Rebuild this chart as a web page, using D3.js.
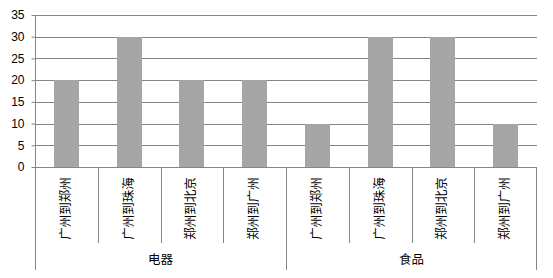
<!DOCTYPE html>
<html>
<head>
<meta charset="utf-8">
<script src="https://cdn.jsdelivr.net/npm/d3@7"></script>
<style>
  body { margin: 0; background: #fff; }
  svg { display: block; }
</style>
</head>
<body>
<div id="viz"></div>
<script>
const width = 553;
const height = 278;
const margin = {top: 15, right: 16, bottom: 111, left: 35};
const barColor = '#a5a5a5';
const lineColor = '#868686';

// data
const groups = ['电器', '食品'];
const routes = ['广州到郑州', '广州到珠海', '郑州到北京', '郑州到广州'];
const values = [20, 30, 20, 20, 10, 30, 30, 10];
const yTicks = [0, 5, 10, 15, 20, 25, 30, 35];

// flatten into one row per bar
const data = [];
groups.forEach((g, gi) => {
    routes.forEach((r, ri) => {
        data.push({group: g, route: r, key: g + '|' + r, value: values[gi * routes.length + ri]});
    });
});

const x = d3.scaleBand()
    .domain(data.map(d => d.key))
    .range([margin.left, width - margin.right])
    .paddingInner(0.6)
    .paddingOuter(0.3);

const y = d3.scaleLinear()
    .domain([0, 35])
    .range([height - margin.bottom, margin.top]);

const svg = d3.select('#viz')
    .append('svg')
        .attr('width', width)
        .attr('height', height);

// gridlines
svg.append('g')
    .selectAll('line')
    .data(yTicks)
    .join('line')
        .attr('x1', margin.left)
        .attr('x2', width - margin.right)
        .attr('y1', d => Math.round(y(d)) + 0.5)
        .attr('y2', d => Math.round(y(d)) + 0.5)
        .attr('stroke', lineColor);

// y axis
const yAxis = svg.append('g')
    .attr('transform', `translate(${margin.left + 0.5},0)`)
    .call(d3.axisLeft(y).tickValues(yTicks).tickSize(4).tickPadding(7).tickSizeOuter(0));
yAxis.select('.domain').remove();
yAxis.selectAll('.tick line').attr('stroke', lineColor);
yAxis.selectAll('.tick text')
    .attr('font-family', 'Liberation Sans, Arial, sans-serif')
    .attr('font-size', 12)
    .attr('fill', '#000');
yAxis.attr('font-family', null);

// bars
svg.append('g')
    .selectAll('rect')
    .data(data)
    .join('rect')
        .attr('x', d => Math.round(x(d.key)))
        .attr('y', d => Math.round(y(d.value)))
        .attr('width', Math.round(x.bandwidth()))
        .attr('height', d => Math.round(y(0)) - Math.round(y(d.value)))
        .attr('fill', barColor);

// multi-level category axis
const step = x.step();
const x0 = margin.left;
const baseY = Math.round(y(0)) + 0.5;
const axisG = svg.append('g');

axisG.append('line')
    .attr('x1', x0).attr('x2', width - margin.right)
    .attr('y1', baseY).attr('y2', baseY)
    .attr('stroke', lineColor);

// separators between routes
axisG.selectAll('.sep')
    .data(d3.range(1, data.length).filter(i => i % routes.length !== 0))
    .join('line')
        .attr('class', 'sep')
        .attr('x1', i => Math.round(x0 + i * step) + 0.5)
        .attr('x2', i => Math.round(x0 + i * step) + 0.5)
        .attr('y1', baseY)
        .attr('y2', 243)
        .attr('stroke', lineColor);

// separators between groups (including the outer edges)
axisG.selectAll('.gsep')
    .data(d3.range(0, groups.length + 1))
    .join('line')
        .attr('class', 'gsep')
        .attr('x1', i => Math.round(x0 + i * routes.length * step) - (i === groups.length ? 0.5 : -0.5))
        .attr('x2', i => Math.round(x0 + i * routes.length * step) - (i === groups.length ? 0.5 : -0.5))
        .attr('y1', i => i === 0 ? margin.top : baseY)
        .attr('y2', 270)
        .attr('stroke', lineColor);

// route labels, rotated
axisG.selectAll('.route')
    .data(data)
    .join('text')
        .attr('class', 'route')
        .attr('transform', d => `translate(${x(d.key) + x.bandwidth() / 2 - 1},208.5) rotate(-90)`)
        .attr('text-anchor', 'middle')
        .attr('dy', '0.35em')
        .attr('font-family', 'Noto Sans CJK SC, sans-serif')
        .attr('font-size', 12.5)
        .attr('fill', '#000')
        .text(d => d.route);

// group labels
axisG.selectAll('.group')
    .data(groups)
    .join('text')
        .attr('class', 'group')
        .attr('x', (d, i) => x0 + (i + 0.5) * routes.length * step)
        .attr('y', 260)
        .attr('text-anchor', 'middle')
        .attr('dy', '0.35em')
        .attr('font-family', 'Noto Sans CJK SC, sans-serif')
        .attr('font-size', 12.5)
        .attr('fill', '#000')
        .text(d => d);
</script>
</body>
</html>
